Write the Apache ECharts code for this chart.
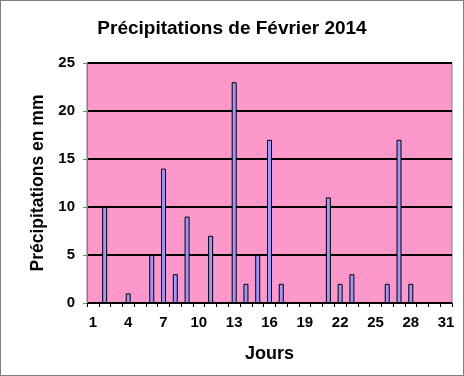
<!DOCTYPE html>
<html>
<head>
<meta charset="utf-8">
<script src="https://cdn.jsdelivr.net/npm/echarts@6/dist/echarts.min.js"></script>
<style>
  html, body { margin: 0; padding: 0; background: #fff; }
  #container { width: 464px; height: 376px; }
</style>
</head>
<body>
<div id="container"></div>
<script>
// jours du mois
var jours = [];
for (var d = 1; d <= 31; d++) jours.push(String(d));

// pluie en mm
var pluie = [0, 10, 0, 1, 0, 5, 14, 3, 9, 0,
             7, 0, 23, 2, 5, 17, 2, 0, 0, 0,
             11, 2, 3, 0, 0, 2, 17, 2, 0, 0, 0];

var yTicks = { min: 0, max: 25, interval: 5 };

// fond rose a petits points
function motif() {
	var c = document.createElement('canvas');
	c.width = 8; c.height = 8;
	var ctx = c.getContext('2d');
	ctx.fillStyle = '#ff99cc';
	ctx.fillRect(0, 0, 8, 8);
	ctx.fillStyle = '#e07aae';
	ctx.fillRect(1, 1, 1, 1);
	ctx.fillRect(5, 5, 1, 1);
	return c;
}

var dom = document.getElementById("container");
var myChart = echarts.init(dom);
var police = '"Liberation Sans", Arial, sans-serif';

var option = {
	animation: false,
	title: {
		text: 'Précipitations de Février 2014',
		left: 'center',
		top: 14,
		textStyle: { fontFamily: police, fontSize: 19, fontWeight: 'bold', color: '#000' }
	},
	grid: {
		left: 87,
		right: 12,
		top: 63,
		bottom: 73,
		show: true,
		backgroundColor: { image: motif(), repeat: 'repeat' },
		borderColor: '#808080',
		borderWidth: 1
	},
	xAxis: {
		type: 'category',
		data: jours,
		name: 'Jours',
		nameLocation: 'middle',
		nameGap: 42,
		nameTextStyle: { fontFamily: police, fontSize: 18, fontWeight: 'bold', color: '#000' },
		axisLine: { lineStyle: { color: '#000', width: 1 } },
		axisTick: { show: true, interval: 0, length: 4, lineStyle: { color: '#000' } },
		axisLabel: { interval: 2, margin: 12, fontFamily: police, fontSize: 15, fontWeight: 'bold', color: '#000' }
	},
	yAxis: {
		type: 'value',
		min: yTicks.min,
		max: yTicks.max,
		interval: yTicks.interval,
		name: 'Précipitations en mm',
		nameLocation: 'middle',
		nameGap: 40,
		nameTextStyle: { fontFamily: police, fontSize: 17.5, fontWeight: 'bold', color: '#000' },
		axisLine: { show: true, lineStyle: { color: '#808080', width: 1 } },
		axisTick: { show: true, length: 4, lineStyle: { color: '#808080' } },
		axisLabel: { margin: 12, fontFamily: police, fontSize: 15, fontWeight: 'bold', color: '#000' },
		splitLine: { lineStyle: { color: '#000', width: 2 } }
	},
	graphic: [{
		type: 'rect',
		shape: { x: 0.5, y: 0.5, width: 463, height: 375 },
		style: { fill: 'none', stroke: '#000', lineWidth: 1, lineDash: [1, 1] },
		silent: true
	}],
	series: [{
		type: 'bar',
		data: pluie,
		barWidth: 5,
		itemStyle: { color: '#9999ff', borderColor: '#000', borderWidth: 1 }
	}]
};

myChart.setOption(option, true);
</script>
</body>
</html>
